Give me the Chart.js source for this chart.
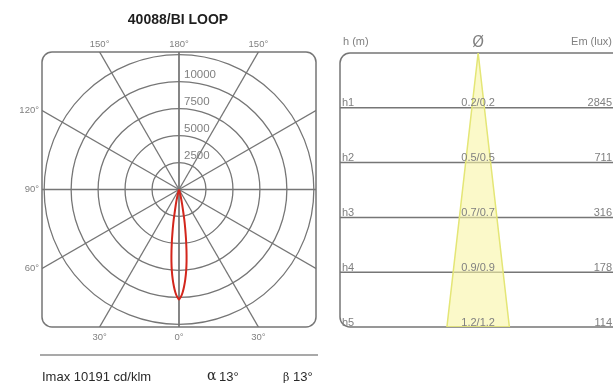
<!DOCTYPE html>
<html>
<head>
<meta charset="utf-8">
<script src="https://cdn.jsdelivr.net/npm/chart.js@4.4.1/dist/chart.umd.min.js"></script>
<style>
  html, body { margin: 0; padding: 0; background: #fff; }
  #wrap { position: relative; width: 613px; height: 383px; overflow: hidden; }
  #polarBox { position: absolute; left: 0; top: 0; width: 335px; height: 383px; }
  #tableBox { position: absolute; left: 335px; top: 0; width: 278px; height: 383px; }
</style>
</head>
<body>
<div id="wrap">
  <div id="polarBox"><canvas id="polar" width="335" height="383"></canvas></div>
  <div id="tableBox"><canvas id="table" width="278" height="383"></canvas></div>
</div>
<script>
/* ++++++++++ DATA ++++++++++ */
const title = '40088/BI LOOP';
const ringValues = [2500, 5000, 7500, 10000, 12500];
const ringLabels = ['2500', '5000', '7500', '10000'];
const gridAngles = [0, 30, 60, 90, 120, 150, 180];

// intensity curve (cd/klm), one half of the beam, angle from nadir
const lobeAngles = [0, 1, 2, 3, 4, 5, 6, 7, 8, 9, 10, 12, 14, 16, 20];
const lobeIntensity = [10191, 9950, 9550, 9000, 8350, 7600, 6700, 5700, 4700, 3700, 2800, 1400, 600, 200, 0];

const imax = 'Imax 10191 cd/klm';
const alphaText = '13°';
const betaText = '13°';
const beamAngle = 13;

// table
const rowNames = ['h1', 'h2', 'h3', 'h4', 'h5'];
const heights = [1, 2, 3, 4, 5];
const diameters = ['0.2/0.2', '0.5/0.5', '0.7/0.7', '0.9/0.9', '1.2/1.2'];
const illuminance = ['2845', '711', '316', '178', '114'];

const GRID = '#767676';
const TEXT = '#808080';
const FONT = '"Liberation Sans", Arial, sans-serif';

function roundRectPath(ctx, x, y, w, h, r) {
  ctx.beginPath();
  ctx.moveTo(x + r, y);
  ctx.arcTo(x + w, y, x + w, y + h, r);
  ctx.arcTo(x + w, y + h, x, y + h, r);
  ctx.arcTo(x, y + h, x, y, r);
  ctx.arcTo(x, y, x + w, y, r);
  ctx.closePath();
}

/* ++++++++++ POLAR DIAGRAM ++++++++++ */
const lobePoints = [];
for (let i = lobeAngles.length - 1; i >= 0; i--) {
  const t = -lobeAngles[i] * Math.PI / 180;
  lobePoints.push({ x: lobeIntensity[i] * Math.sin(t), y: -lobeIntensity[i] * Math.cos(t) });
}
for (let i = 1; i < lobeAngles.length; i++) {
  const t = lobeAngles[i] * Math.PI / 180;
  lobePoints.push({ x: lobeIntensity[i] * Math.sin(t), y: -lobeIntensity[i] * Math.cos(t) });
}

const polarGrid = {
  id: 'polarGrid',
  beforeDatasetsDraw(chart) {
    const { ctx, chartArea: a, scales: { x, y } } = chart;
    const cx = x.getPixelForValue(0);
    const cy = y.getPixelForValue(0);
    const unit = (x.getPixelForValue(10000) - cx) / 10000;
    ctx.save();
    roundRectPath(ctx, a.left, a.top, a.right - a.left, a.bottom - a.top, 10);
    ctx.strokeStyle = GRID;
    ctx.lineWidth = 1.5;
    ctx.stroke();
    ctx.clip();
    ctx.lineWidth = 1.3;
    ringValues.forEach(v => {
      ctx.beginPath();
      ctx.arc(cx, cy, v * unit, 0, 2 * Math.PI);
      ctx.stroke();
    });
    gridAngles.forEach(deg => {
      const t = deg * Math.PI / 180;
      [-1, 1].forEach(s => {
        ctx.beginPath();
        ctx.moveTo(cx, cy);
        ctx.lineTo(cx + s * Math.sin(t) * 1000, cy + Math.cos(t) * 1000);
        ctx.stroke();
      });
    });
    ctx.restore();

    // ring labels
    ctx.save();
    ctx.fillStyle = TEXT;
    ctx.font = '11.5px ' + FONT;
    ctx.textAlign = 'left';
    ctx.textBaseline = 'alphabetic';
    ringLabels.forEach((lab, i) => {
      ctx.fillText(lab, cx + 5, cy - ringValues[i] * unit - 4);
    });

    // angle labels on the frame
    ctx.font = '9.5px ' + FONT;
    gridAngles.forEach(deg => {
      const t = deg * Math.PI / 180;
      [-1, 1].forEach(s => {
        if ((deg === 0 || deg === 180) && s === 1) return;
        const dx = s * Math.sin(t), dy = Math.cos(t);
        const tx = Math.abs(dx) > 1e-9 ? ((dx > 0 ? a.right : a.left) - cx) / dx : Infinity;
        const ty = Math.abs(dy) > 1e-9 ? ((dy > 0 ? a.bottom : a.top) - cy) / dy : Infinity;
        const lab = deg + '°';
        if (ty <= tx) {
          ctx.textAlign = 'center';
          ctx.textBaseline = 'middle';
          ctx.fillText(lab, cx + dx * ty, dy > 0 ? a.bottom + 10 : a.top - 8);
        } else if (s === -1) {
          ctx.textAlign = 'right';
          ctx.textBaseline = 'middle';
          ctx.fillText(lab, a.left - 3, cy + dy * tx);
        }
      });
    });
    ctx.restore();
  },
  afterDraw(chart) {
    const { ctx, chartArea: a, scales: { x } } = chart;
    const cx = x.getPixelForValue(0);
    ctx.save();
    ctx.fillStyle = '#1e1e1e';
    ctx.font = 'bold 14px ' + FONT;
    ctx.textAlign = 'center';
    ctx.textBaseline = 'middle';
    ctx.fillText(title, cx - 1, 20);

    ctx.strokeStyle = '#8c8c8c';
    ctx.lineWidth = 1.5;
    ctx.beginPath();
    ctx.moveTo(a.left - 2, 355);
    ctx.lineTo(a.right + 2, 355);
    ctx.stroke();

    ctx.fillStyle = '#2a2a2a';
    ctx.textAlign = 'left';
    ctx.textBaseline = 'alphabetic';
    ctx.font = '13px ' + FONT;
    ctx.fillText(imax, a.left, 381);
    ctx.font = '14px "DejaVu Serif", serif';
    ctx.fillText('α', 207, 380);
    ctx.font = '11px "DejaVu Serif", serif';
    ctx.fillText('β', 283, 381);
    ctx.font = '13px ' + FONT;
    ctx.fillText(alphaText, 219, 381);
    ctx.fillText(betaText, 293, 381);
    ctx.restore();
  }
};

new Chart(document.getElementById('polar'), {
  type: 'scatter',
  data: {
    datasets: [{
      label: 'Intensity',
      data: lobePoints,
      showLine: true,
      borderColor: '#d3261c',
      borderWidth: 2,
      pointRadius: 0,
      tension: 0.15,
      fill: false
    }]
  },
  options: {
    responsive: false,
    animation: false,
    devicePixelRatio: 1,
    layout: { padding: { left: 42, right: 19, top: 52, bottom: 56 } },
    scales: {
      x: { type: 'linear', display: false, min: -12700, max: 12700 },
      y: { type: 'linear', display: false, min: -12750, max: 12750 }
    },
    plugins: { legend: { display: false }, tooltip: { enabled: false } }
  },
  plugins: [polarGrid]
});

/* ++++++++++ HEIGHT TABLE ++++++++++ */
const halfTan = Math.tan(beamAngle / 2 * Math.PI / 180);
const hMax = heights[heights.length - 1];
const conePoints = [
  { x: 0, y: 0 },
  { x: -hMax * halfTan, y: hMax },
  { x: hMax * halfTan, y: hMax },
  { x: 0, y: 0 }
];

const tableGrid = {
  id: 'tableGrid',
  beforeDatasetsDraw(chart) {
    const { ctx, chartArea: a, scales: { y } } = chart;
    const r = 10;
    ctx.save();
    ctx.strokeStyle = GRID;
    ctx.lineWidth = 1.5;
    ctx.beginPath();
    ctx.moveTo(a.right, a.top);
    ctx.lineTo(a.left + r, a.top);
    ctx.arcTo(a.left, a.top, a.left, a.top + r, r);
    ctx.lineTo(a.left, a.bottom - r);
    ctx.arcTo(a.left, a.bottom, a.left + r, a.bottom, r);
    ctx.lineTo(a.right, a.bottom);
    ctx.stroke();
    heights.slice(0, -1).forEach(h => {
      const py = y.getPixelForValue(h);
      ctx.beginPath();
      ctx.moveTo(a.left, py);
      ctx.lineTo(a.right, py);
      ctx.stroke();
    });
    ctx.restore();
  },
  afterDatasetsDraw(chart) {
    const { ctx, chartArea: a, scales: { x, y } } = chart;
    const x0 = x.getPixelForValue(0);
    ctx.save();
    ctx.fillStyle = TEXT;
    ctx.font = '11px ' + FONT;
    ctx.textBaseline = 'alphabetic';
    ctx.textAlign = 'left';
    ctx.fillText('h (m)', a.left + 3, a.top - 8);
    ctx.textAlign = 'right';
    ctx.fillText('Em (lux)', a.right - 1, a.top - 8);
    ctx.textAlign = 'center';
    ctx.font = '15px "DejaVu Sans", sans-serif';
    ctx.fillText('Ø', x0, a.top - 6);
    ctx.font = '11px ' + FONT;
    heights.forEach((h, i) => {
      const py = y.getPixelForValue(h) - 1.5;
      ctx.textAlign = 'left';
      ctx.fillText(rowNames[i], a.left + 2, py);
      ctx.textAlign = 'center';
      ctx.fillText(diameters[i], x0, py);
      ctx.textAlign = 'right';
      ctx.fillText(illuminance[i], a.right - 1, py);
    });
    ctx.restore();
  }
};

new Chart(document.getElementById('table'), {
  type: 'scatter',
  data: {
    datasets: [{
      label: 'Beam',
      data: conePoints,
      showLine: true,
      borderColor: '#e4e676',
      borderWidth: 1.5,
      backgroundColor: 'rgba(248, 245, 165, 0.6)',
      fill: 'shape',
      pointRadius: 0,
      tension: 0
    }]
  },
  options: {
    responsive: false,
    animation: false,
    devicePixelRatio: 1,
    layout: { padding: { left: 5, right: 0, top: 53, bottom: 56 } },
    scales: {
      x: { type: 'linear', display: false, min: -2.52, max: 2.46 },
      y: { type: 'linear', display: false, min: 0, max: 5, reverse: true }
    },
    plugins: { legend: { display: false }, tooltip: { enabled: false } }
  },
  plugins: [tableGrid]
});
</script>
</body>
</html>
